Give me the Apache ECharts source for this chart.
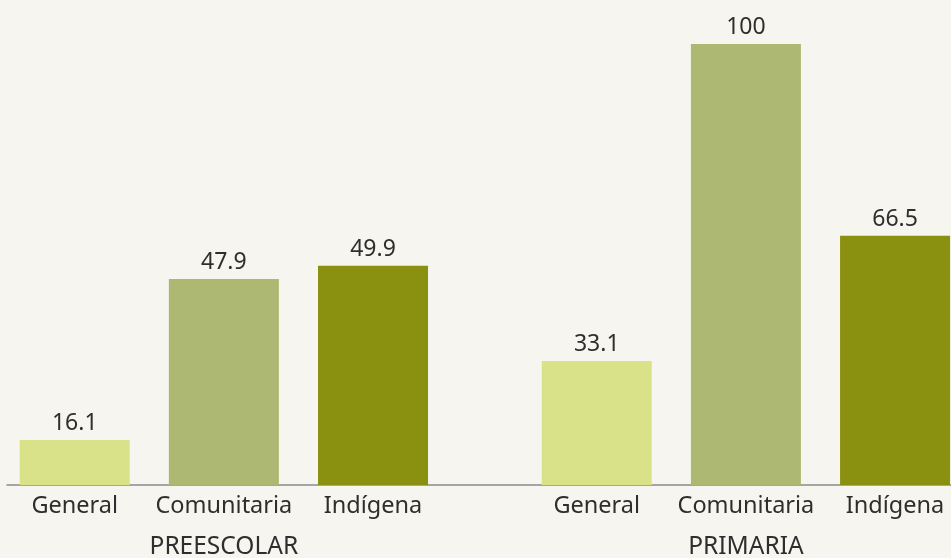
<!DOCTYPE html>
<html>
<head>
<meta charset="utf-8">
<script src="https://cdn.jsdelivr.net/npm/echarts@6/dist/echarts.min.js"></script>
<style>
  html, body { margin: 0; padding: 0; background: #f6f5f0; }
  #chart { width: 951px; height: 558px; }
</style>
</head>
<body>
<div id="chart"></div>
<script>
// categorias y grupos
var categorias = ['General', 'Comunitaria', 'Indígena', 'General', 'Comunitaria', 'Indígena'];
var posiciones = [0, 1, 2, 3.5, 4.5, 5.5]; // lugar de cada barra en el eje x
var grupos = ['PREESCOLAR', 'PRIMARIA'];
var posicionesGrupo = [1, 4.5];
// altura de las barras tal como se ve en la imagen
var alturas = [10.2, 46.7, 49.7, 28.1, 100, 56.5];
// texto de las etiquetas sobre cada barra
var etiquetas = ['16.1', '47.9', '49.9', '33.1', '100', '66.5'];
var colores = ['#d9e189', '#adb872', '#8a9010', '#d9e189', '#adb872', '#8a9010'];

(function () {
    var dom = document.getElementById('chart');
    var myChart = echarts.init(dom, null, { renderer: 'canvas' });

    var datos = [];
    for (var i = 0; i < alturas.length; i++) {
        datos.push({
            value: [posiciones[i], alturas[i]],
            itemStyle: { color: colores[i] },
            label: { formatter: etiquetas[i] }
        });
    }

    var fuente = '"Noto Sans", sans-serif';

    var option = {
        backgroundColor: '#f6f5f0',
        animation: false,
        grid: { left: 7, right: 0, top: 44, bottom: 73, outerBoundsMode: 'none' },
        xAxis: [
            {
                type: 'value',
                min: -0.454,
                max: 5.875,
                splitLine: { show: false },
                axisLine: { show: true, lineStyle: { color: '#8a8a8a', width: 1.5 } },
                axisTick: { show: false },
                axisLabel: {
                    customValues: posiciones,
                    margin: 9,
                    color: '#2e2e2e',
                    fontSize: 23.5,
                    fontFamily: fuente,
                    formatter: function (v) {
                        var k = posiciones.indexOf(v);
                        return k >= 0 ? categorias[k] : '';
                    }
                }
            },
            {
                type: 'value',
                position: 'bottom',
                min: -0.454,
                max: 5.875,
                splitLine: { show: false },
                axisLine: { show: false },
                axisTick: { show: false },
                axisLabel: {
                    customValues: posicionesGrupo,
                    margin: 50,
                    color: '#2e2e2e',
                    fontSize: 24.5,
                    fontFamily: fuente,
                    formatter: function (v) {
                        var k = posicionesGrupo.indexOf(v);
                        return k >= 0 ? grupos[k] : '';
                    }
                }
            }
        ],
        yAxis: {
            type: 'value',
            min: 0,
            max: 100,
            show: false
        },
        series: [
            {
                type: 'bar',
                xAxisIndex: 0,
                barWidth: 110,
                data: datos,
                label: {
                    show: true,
                    position: 'top',
                    distance: 5,
                    color: '#2e2e2e',
                    fontSize: 23,
                    fontFamily: fuente
                }
            }
        ]
    };
    myChart.setOption(option);
    window.addEventListener('resize', myChart.resize);
})();
</script>
</body>
</html>
